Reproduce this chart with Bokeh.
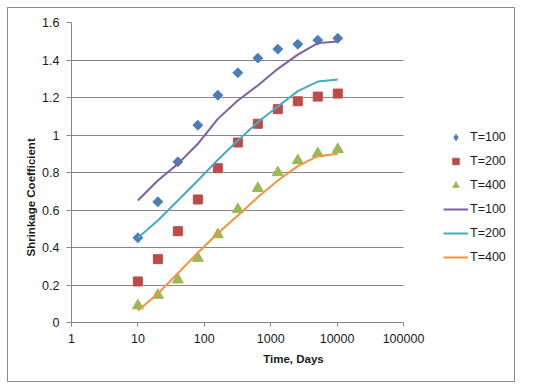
import numpy as np
from bokeh.plotting import figure
from bokeh.models import (Legend, LegendItem, FixedTicker, Range1d, Title,
                          CustomJSTickFormatter, ColumnDataSource)
from bokeh.embed import file_html
from bokeh.resources import INLINE

# ---- data ----
time_days = [10, 20, 40, 80, 160, 320, 640, 1280, 2560, 5120, 10240]
meas_t100 = [0.452, 0.644, 0.857, 1.052, 1.212, 1.332, 1.410, 1.458, 1.484, 1.506, 1.516]
meas_t200 = [0.219, 0.338, 0.487, 0.656, 0.823, 0.960, 1.060, 1.138, 1.180, 1.205, 1.221]
meas_t400 = [0.090, 0.146, 0.228, 0.343, 0.469, 0.603, 0.716, 0.800, 0.864, 0.901, 0.923]
fit_t100 = [0.651, 0.757, 0.846, 0.953, 1.086, 1.184, 1.264, 1.353, 1.429, 1.490, 1.499]
fit_t200 = [0.452, 0.544, 0.651, 0.757, 0.868, 0.971, 1.068, 1.152, 1.234, 1.285, 1.296]
fit_t400 = [0.064, 0.153, 0.263, 0.372, 0.476, 0.571, 0.668, 0.757, 0.834, 0.887, 0.900]
series_labels = ["T=100", "T=200", "T=400"]
x_ticks = [1, 10, 100, 1000, 10000, 100000]
y_ticks = [0, 0.2, 0.4, 0.6, 0.8, 1.0, 1.2, 1.4, 1.6]

FONT = "Liberation Sans"
GRID = "#868686"
C_BLUE, C_RED, C_GREEN = "#4A7EBB", "#BE4B48", "#98B954"

W, H = 508, 375
LEFT, RIGHT, TOP, BOTTOM = 63, 1, 14, 61
plot_px = 332                      # pixels for the 1..100000 axis
frame_w = W - LEFT - RIGHT
x_end = 10 ** (5 * frame_w / plot_px)  # frame extends right to hold the legend

p = figure(width=W, height=H, x_axis_type="log",
           x_range=Range1d(1, x_end), y_range=Range1d(0, 1.6),
           output_backend="svg", toolbar_location=None,
           min_border_left=LEFT, min_border_right=RIGHT,
           min_border_top=TOP, min_border_bottom=BOTTOM,
           background_fill_color="white", border_fill_color="white")
p.styles = {"border": "1px solid #8c8c8c", "margin-left": "7px", "margin-top": "7px"}
p.outline_line_color = None

src = ColumnDataSource(dict(x=time_days, m1=meas_t100, m2=meas_t200, m3=meas_t400,
                            f1=fit_t100, f2=fit_t200, f3=fit_t400))
legend_only = ColumnDataSource(dict(x=[np.nan], y=[np.nan]))

r_m1 = p.scatter("x", "m1", source=src, marker="square", angle=np.pi / 4, size=7,
                 fill_color=C_BLUE, line_color=C_BLUE)
r_m1_leg = p.scatter("x", "y", source=legend_only, marker="diamond", size=11,
                     fill_color=C_BLUE, line_color=C_BLUE)
r_m2 = p.scatter("x", "m2", source=src, marker="square", size=9,
                 fill_color=C_RED, line_color=C_RED)
r_m3 = p.scatter("x", "m3", source=src, marker="triangle", size=11,
                 fill_color=C_GREEN, line_color=C_GREEN)
r_f1 = p.line("x", "f1", source=src, line_color="#7D60A0", line_width=2)
r_f2 = p.line("x", "f2", source=src, line_color="#46AAC5", line_width=2)
r_f3 = p.line("x", "f3", source=src, line_color="#F69240", line_width=2)

# axes
p.xaxis.ticker = FixedTicker(ticks=x_ticks)
p.xaxis.formatter = CustomJSTickFormatter(code="return String(Math.round(tick));")
p.xaxis.bounds = (x_ticks[0], x_ticks[-1])
p.yaxis.ticker = FixedTicker(ticks=y_ticks)
p.yaxis.formatter = CustomJSTickFormatter(code="return String(Number(tick.toFixed(2)));")
for ax in (p.xaxis, p.yaxis):
    ax.axis_line_color = GRID
    ax.major_tick_line_color = GRID
    ax.minor_tick_line_color = None
    ax.major_tick_in = 0
    ax.major_label_text_font = FONT
    ax.major_label_text_font_size = "12.5px"
    ax.major_label_text_color = "#1a1a1a"
    ax.axis_label_text_font = FONT
    ax.axis_label_text_font_size = "11.5px"
    ax.axis_label_text_font_style = "bold"
    ax.axis_label_text_color = "#1a1a1a"
p.xaxis.major_tick_out = 4
p.yaxis.major_tick_out = 5
p.xaxis.major_label_standoff = 7
p.yaxis.major_label_standoff = 7
p.xaxis.axis_label = "Time, Days"
p.xaxis.axis_label_standoff = 7

# y-axis title, placed lower than centre as in the reference
ytitle = Title(text="Shrinkage Coefficient", align="left", offset=66,
               text_font=FONT, text_font_size="11.5px", text_font_style="bold",
               text_color="#1a1a1a", standoff=6)
p.add_layout(ytitle, "left")

p.xgrid.grid_line_color = None
p.ygrid.grid_line_color = GRID
p.ygrid.grid_line_width = 1
p.ygrid.cross_bounds = (x_ticks[0], x_ticks[-1])

legend = Legend(items=[
    LegendItem(label=series_labels[0], renderers=[r_m1_leg]),
    LegendItem(label=series_labels[1], renderers=[r_m2]),
    LegendItem(label=series_labels[2], renderers=[r_m3]),
    LegendItem(label=series_labels[0], renderers=[r_f1]),
    LegendItem(label=series_labels[1], renderers=[r_f2]),
    LegendItem(label=series_labels[2], renderers=[r_f3]),
], location=(372, 57))
legend.background_fill_alpha = 0
legend.border_line_color = None
legend.padding = 0
legend.margin = 0
legend.spacing = 8
legend.glyph_width = 25
legend.glyph_height = 16
legend.label_height = 16
legend.label_standoff = 2
legend.label_text_font = FONT
legend.label_text_font_size = "12.5px"
legend.label_text_color = "#1a1a1a"
p.add_layout(legend, "center")

open("out.html", "w").write(file_html(p, INLINE))
